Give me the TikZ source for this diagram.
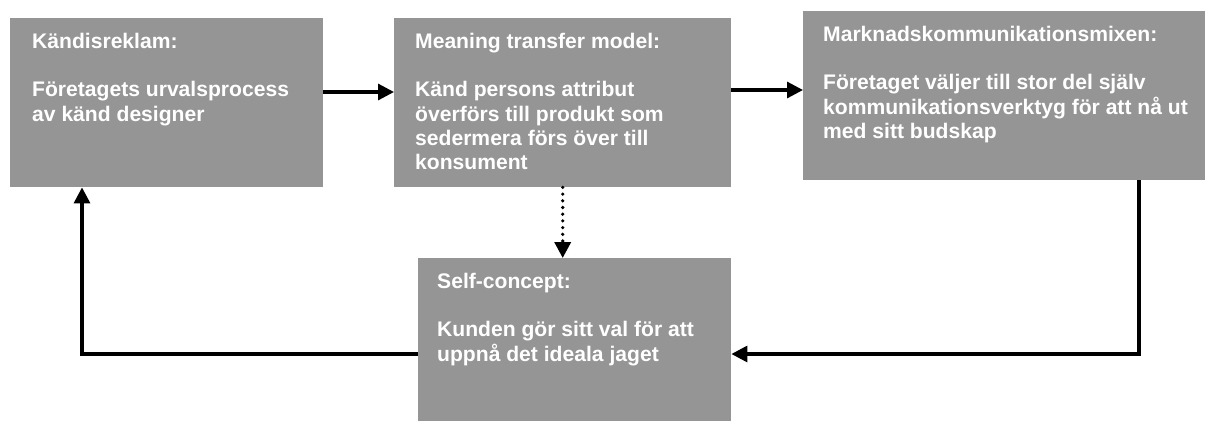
\documentclass[tikz,border=0pt]{standalone}
\usepackage{fontspec}
\setmainfont{Liberation Sans}
\usepackage{tikz}
\usetikzlibrary{arrows.meta}

\definecolor{boxgray}{RGB}{149,149,149}

% padding, width, height, text
\newcommand{\boxtext}[4]{\hspace*{#1}\parbox[t][#3][t]{\dimexpr#2-#1\relax}{\raggedright\rule{0pt}{30pt}#4}}

\tikzset{
  box/.style={rectangle,fill=boxgray,text=white,anchor=north west,inner sep=0pt,
    font=\bfseries\fontsize{21.1}{24.3}\selectfont},
  flow/.style={-{Triangle[length=16pt,width=16pt]},line width=3.2pt},
  dotflow/.style={flow,dash pattern=on 0pt off 6.7pt,line cap=round,line width=3.6pt}
}

\begin{document}
\begin{tikzpicture}[x=1pt,y=-1pt]
  \useasboundingbox (0,0) rectangle (1205,421);

  \node[box] (kandis) at (10,18)
    {\boxtext{22pt}{313pt}{169pt}{K\"andisreklam:\\[24.3pt]
      F\"oretagets urvalsprocess\\av k\"and designer}};
  \node[box] (meaning) at (394,18)
    {\boxtext{21pt}{337pt}{169pt}{Meaning transfer model:\\[24.3pt]
      K\"and persons attribut\\\"overf\"ors till produkt som\\
      sedermera f\"ors \"over till\\konsument}};
  \node[box] (marknad) at (803,11)
    {\boxtext{20pt}{402pt}{169pt}{Marknadskommunikationsmixen:\\[24.3pt]
      F\"oretaget v\"aljer till stor del sj\"alv\\
      kommunikationsverktyg f\"or att n\aa{} ut\\med sitt budskap}};
  \node[box] (self) at (418,258)
    {\boxtext{19pt}{313pt}{163pt}{Self-concept:\\[24.3pt]
      Kunden g\"or sitt val f\"or att\\uppn\aa{} det ideala jaget}};

  % connectors
  \coordinate (k2) at ([yshift=-74pt]kandis.north east);
  \coordinate (m2) at ([yshift=-72pt]meaning.north east);
  \coordinate (s1) at ([yshift=-96pt]self.north west);
  \coordinate (k1) at ([xshift=72pt]kandis.south west);
  \coordinate (r1) at ([xshift=336pt]marknad.south west);

  \draw[flow] (k2) -- (k2 -| meaning.west);
  \draw[flow] (m2) -- (m2 -| marknad.west);
  \draw[dotflow] (meaning.south) -- (meaning.south |- self.north);
  \draw[flow] (r1) |- (s1 -| self.east);
  \draw[flow] (s1) -| (k1);
\end{tikzpicture}
\end{document}
